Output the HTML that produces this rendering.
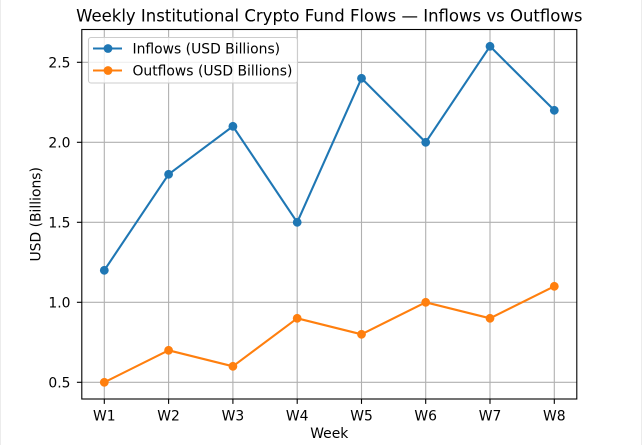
<!DOCTYPE html>
<html><head><meta charset="utf-8"><style>
html,body{margin:0;padding:0;background:#fff;}
svg{display:block;}
text{font-family:"DejaVu Sans","Liberation Sans",sans-serif;fill:#000;}
</style></head><body>
<svg width="642" height="445" viewBox="0 0 642 445" xmlns="http://www.w3.org/2000/svg">
<rect x="0" y="0" width="642" height="445" fill="#fff"/>
<line x1="0.5" y1="0" x2="0.5" y2="445" stroke="#ececec" stroke-width="1"/>
<line x1="641.5" y1="0" x2="641.5" y2="445" stroke="#ececec" stroke-width="1"/>
<g stroke="#b0b0b0" stroke-width="1.1">
<line x1="104.3" y1="29.5" x2="104.3" y2="399"/>
<line x1="168.6" y1="29.5" x2="168.6" y2="399"/>
<line x1="232.9" y1="29.5" x2="232.9" y2="399"/>
<line x1="297.2" y1="29.5" x2="297.2" y2="399"/>
<line x1="361.5" y1="29.5" x2="361.5" y2="399"/>
<line x1="425.7" y1="29.5" x2="425.7" y2="399"/>
<line x1="490.0" y1="29.5" x2="490.0" y2="399"/>
<line x1="554.3" y1="29.5" x2="554.3" y2="399"/>
<line x1="81.8" y1="382.3" x2="576.8" y2="382.3"/>
<line x1="81.8" y1="302.3" x2="576.8" y2="302.3"/>
<line x1="81.8" y1="222.3" x2="576.8" y2="222.3"/>
<line x1="81.8" y1="142.3" x2="576.8" y2="142.3"/>
<line x1="81.8" y1="62.3" x2="576.8" y2="62.3"/>
</g>
<polyline fill="none" stroke="#1f77b4" stroke-width="2.1" stroke-linejoin="round" points="104.3,270.3 168.6,174.3 232.9,126.3 297.2,222.3 361.5,78.3 425.7,142.3 490.0,46.3 554.3,110.3"/>
<g fill="#1f77b4">
<circle cx="104.3" cy="270.3" r="4.4"/><circle cx="168.6" cy="174.3" r="4.4"/><circle cx="232.9" cy="126.3" r="4.4"/><circle cx="297.2" cy="222.3" r="4.4"/><circle cx="361.5" cy="78.3" r="4.4"/><circle cx="425.7" cy="142.3" r="4.4"/><circle cx="490.0" cy="46.3" r="4.4"/><circle cx="554.3" cy="110.3" r="4.4"/>
</g>
<polyline fill="none" stroke="#ff7f0e" stroke-width="2.1" stroke-linejoin="round" points="104.3,382.3 168.6,350.3 232.9,366.3 297.2,318.3 361.5,334.3 425.7,302.3 490.0,318.3 554.3,286.3"/>
<g fill="#ff7f0e">
<circle cx="104.3" cy="382.3" r="4.4"/><circle cx="168.6" cy="350.3" r="4.4"/><circle cx="232.9" cy="366.3" r="4.4"/><circle cx="297.2" cy="318.3" r="4.4"/><circle cx="361.5" cy="334.3" r="4.4"/><circle cx="425.7" cy="302.3" r="4.4"/><circle cx="490.0" cy="318.3" r="4.4"/><circle cx="554.3" cy="286.3" r="4.4"/>
</g>
<rect x="81.8" y="29.5" width="495" height="369.5" fill="none" stroke="#000" stroke-width="1.1"/>
<g stroke="#000" stroke-width="1.1">
<line x1="104.3" y1="399" x2="104.3" y2="403.9"/><line x1="168.6" y1="399" x2="168.6" y2="403.9"/><line x1="232.9" y1="399" x2="232.9" y2="403.9"/><line x1="297.2" y1="399" x2="297.2" y2="403.9"/><line x1="361.5" y1="399" x2="361.5" y2="403.9"/><line x1="425.7" y1="399" x2="425.7" y2="403.9"/><line x1="490.0" y1="399" x2="490.0" y2="403.9"/><line x1="554.3" y1="399" x2="554.3" y2="403.9"/>
<line x1="76.9" y1="382.3" x2="81.8" y2="382.3"/><line x1="76.9" y1="302.3" x2="81.8" y2="302.3"/><line x1="76.9" y1="222.3" x2="81.8" y2="222.3"/><line x1="76.9" y1="142.3" x2="81.8" y2="142.3"/><line x1="76.9" y1="62.3" x2="81.8" y2="62.3"/>
</g>
<g font-size="13.9" text-anchor="middle">
<text x="104.3" y="420.5">W1</text><text x="168.6" y="420.5">W2</text><text x="232.9" y="420.5">W3</text><text x="297.2" y="420.5">W4</text><text x="361.5" y="420.5">W5</text><text x="425.7" y="420.5">W6</text><text x="490.0" y="420.5">W7</text><text x="554.3" y="420.5">W8</text>
</g>
<g font-size="13.9" text-anchor="end">
<text x="70.5" y="387.5">0.5</text><text x="70.5" y="307.5">1.0</text><text x="70.5" y="227.5">1.5</text><text x="70.5" y="147.5">2.0</text><text x="70.5" y="67.5">2.5</text>
</g>
<text x="329.3" y="438" font-size="13.9" text-anchor="middle">Week</text>
<text transform="translate(40.5,214.3) rotate(-90)" font-size="13.9" text-anchor="middle">USD (Billions)</text>
<text x="329.3" y="21.5" font-size="16.5" text-anchor="middle">Weekly Institutional Crypto Fund Flows — Inflows vs Outflows</text>
<rect x="88.5" y="37.5" width="209" height="45.5" rx="2.5" fill="#fff" fill-opacity="0.8" stroke="#cccccc" stroke-width="1.1"/>
<line x1="93" y1="48.5" x2="122" y2="48.5" stroke="#1f77b4" stroke-width="2.1"/>
<circle cx="108" cy="48.5" r="4.4" fill="#1f77b4"/>
<line x1="93" y1="70.5" x2="122" y2="70.5" stroke="#ff7f0e" stroke-width="2.1"/>
<circle cx="108" cy="70.5" r="4.4" fill="#ff7f0e"/>
<text x="132.5" y="53.5" font-size="13.9">Inflows (USD Billions)</text>
<text x="132.5" y="75.5" font-size="13.9">Outflows (USD Billions)</text>
</svg>
</body></html>
